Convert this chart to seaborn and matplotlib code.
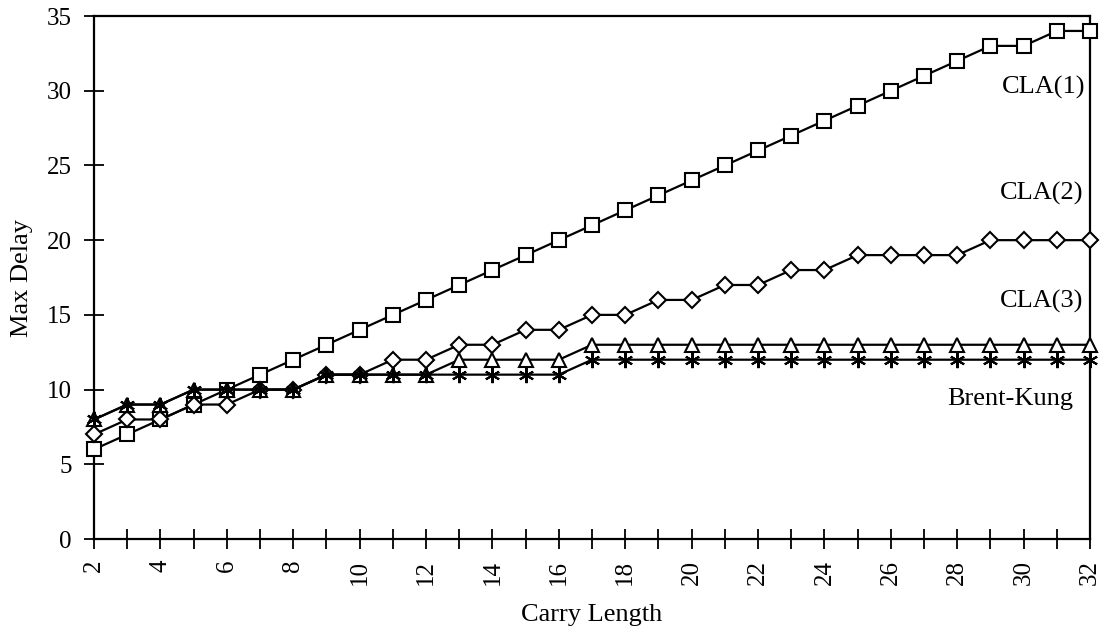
import numpy as np
import pandas as pd
import matplotlib
matplotlib.use('Agg')
import matplotlib.pyplot as plt
import seaborn as sns

sns.set_style('ticks')
plt.rcParams['font.family'] = ['Liberation Serif', 'DejaVu Serif']
plt.rcParams.update({
    'text.color': 'black', 'axes.labelcolor': 'black',
    'xtick.color': 'black', 'ytick.color': 'black',
    'xtick.direction': 'inout', 'ytick.direction': 'inout',
    'xtick.major.size': 14, 'xtick.minor.size': 14, 'ytick.major.size': 14,
    'xtick.major.width': 1.3, 'xtick.minor.width': 1.3, 'ytick.major.width': 1.3,
    'xtick.major.pad': 8, 'xtick.minor.pad': 8, 'ytick.major.pad': 9,
    'xtick.labelsize': 18, 'ytick.labelsize': 18,
})

# data
carry_length = list(range(2, 33))
cla1 = [6, 7, 8, 9, 10, 11, 12, 13, 14, 15, 16, 17, 18, 19, 20, 21,
        22, 23, 24, 25, 26, 27, 28, 29, 30, 31, 32, 33, 33, 34, 34]
cla2 = [7, 8, 8, 9, 9, 10, 10, 11, 11, 12, 12, 13, 13, 14, 14, 15,
        15, 16, 16, 17, 17, 18, 18, 19, 19, 19, 19, 20, 20, 20, 20]
cla3 = [8, 9, 9, 10, 10, 10, 10, 11, 11, 11, 11, 12, 12, 12, 12, 13,
        13, 13, 13, 13, 13, 13, 13, 13, 13, 13, 13, 13, 13, 13, 13]
brent_kung = [8, 9, 9, 10, 10, 10, 10, 11, 11, 11, 11, 11, 11, 11, 11, 12,
              12, 12, 12, 12, 12, 12, 12, 12, 12, 12, 12, 12, 12, 12, 12]

series = [('CLA(1)', cla1, 's', 10),
          ('CLA(2)', cla2, 'D', 8),
          ('CLA(3)', cla3, '^', 10),
          ('Brent-Kung', brent_kung, (6, 2, 0), 11)]

fig, ax = plt.subplots(figsize=(11, 6.3), dpi=100)
fig.subplots_adjust(left=0.0855, right=0.991, bottom=0.1444, top=0.9746)

for name, vals, mk, size in series:
    df = pd.DataFrame({'Carry Length': carry_length, 'Max Delay': vals})
    sns.lineplot(data=df, x='Carry Length', y='Max Delay', ax=ax,
                 color='black', linewidth=1.6, marker=mk, markersize=size,
                 markerfacecolor='white', markeredgecolor='black',
                 markeredgewidth=1.5, clip_on=False, zorder=3)

# series labels on the right
ax.text(31.85, 30.2, 'CLA(1)', ha='right', va='center', fontsize=19)
ax.text(31.8, 23.1, 'CLA(2)', ha='right', va='center', fontsize=19)
ax.text(31.8, 15.9, 'CLA(3)', ha='right', va='center', fontsize=19)
ax.text(31.5, 9.4, 'Brent-Kung', ha='right', va='center', fontsize=19)

ax.set_xlim(2, 32)
ax.set_ylim(0, 35)
ax.set_xticks(range(2, 33, 2))
ax.set_xticks(range(3, 33, 2), minor=True)
ax.set_yticks(range(0, 36, 5))
plt.setp(ax.get_xticklabels(), rotation=90)
for sp in ax.spines.values():
    sp.set_visible(True)
    sp.set_linewidth(1.6)
    sp.set_color('black')

ax.set_xlabel('Carry Length', fontsize=19, labelpad=14)
ax.set_ylabel('Max Delay', fontsize=19, labelpad=10)

fig.savefig('out.png', dpi=100)
